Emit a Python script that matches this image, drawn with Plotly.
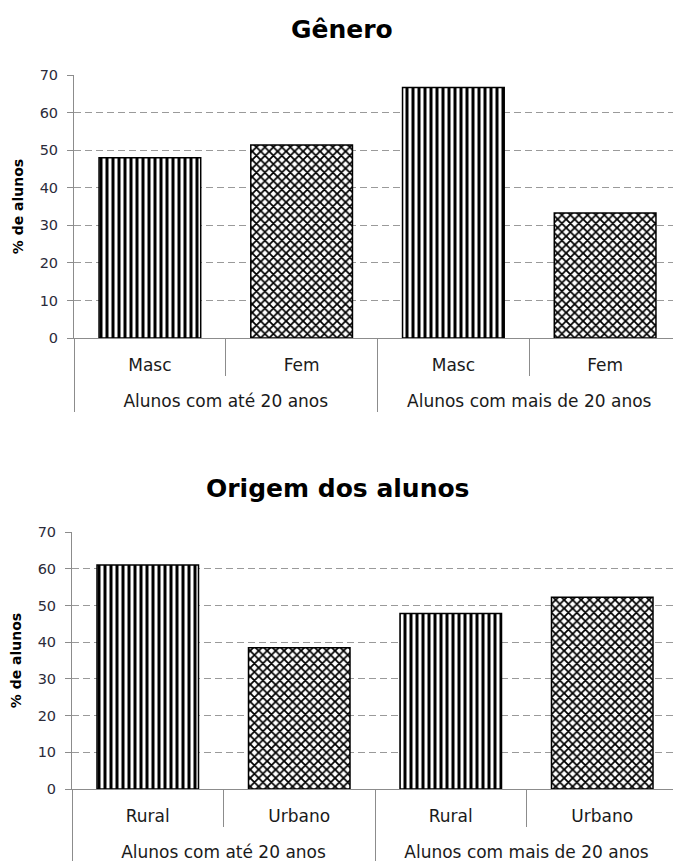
import plotly.graph_objects as go

groups = ["Alunos com até 20 anos", "Alunos com até 20 anos",
          "Alunos com mais de 20 anos", "Alunos com mais de 20 anos"]
genero_cats = ["Masc", "Fem", "Masc", "Fem"]
genero_vals = [48.0, 51.4, 66.7, 33.3]
origem_cats = ["Rural", "Urbano", "Rural", "Urbano"]
origem_vals = [61.0, 38.5, 47.8, 52.2]
patterns = ["|", "x", "|", "x"]
y_ticks = [0, 10, 20, 30, 40, 50, 60, 70]

# page body has an 8px margin, so the figure is 8px smaller than the window
W, H = 673, 853
FONT = "DejaVu Sans"
L = 64

fig = go.Figure()


def bar(cats, vals, xa, ya):
    return go.Bar(
        x=[groups, cats], y=vals, xaxis=xa, yaxis=ya,
        marker=dict(color="white",
                    line=dict(color="black", width=1.5),
                    pattern=dict(shape=patterns, size=6, solidity=0.5,
                                 fgcolor="black", bgcolor="white",
                                 fillmode="replace")),
        showlegend=False, hoverinfo="skip")


fig.add_trace(bar(genero_cats, genero_vals, "x", "y"))
fig.add_trace(bar(origem_cats, origem_vals, "x2", "y2"))


def py(px):
    return 1 - px / H


def pxx(px):
    return (px - L) / (W - L)


xcommon = dict(type="multicategory", showline=True, linecolor="#8c8c8c",
               linewidth=1, ticks="outside", tickson="boundaries",
               ticklen=37, tickcolor="#8c8c8c", showgrid=False,
               dividercolor="#8c8c8c", dividerwidth=1,
               ticklabelstandoff=12,
               ticksuffix="<br><span style='font-size:34px'>\u00a0</span>",
               tickfont=dict(family=FONT, size=17, color="#1a1a1a"),
               automargin=False)
ycommon = dict(range=[0, 70], tickvals=y_ticks, showline=True,
               linecolor="#8c8c8c",
               ticks="outside", ticklen=6, tickcolor="#8c8c8c",
               showgrid=True, gridcolor="#9a9a9a", griddash="7px,4px",
               gridwidth=1, zeroline=False, ticklabelstandoff=6,
               tickfont=dict(family=FONT, size=14.5, color="#2b2b3a"),
               title=dict(text="<b>% de alunos</b>", standoff=12,
                          font=dict(family=FONT, size=14, color="black")),
               automargin=False)

fig.update_layout(
    width=W, height=H,
    margin=dict(l=L, r=0, t=0, b=0),
    paper_bgcolor="white", plot_bgcolor="white",
    xaxis=dict(domain=[pxx(66), 1], anchor="y", **xcommon),
    yaxis=dict(domain=[py(330), py(67)], anchor="x", **ycommon),
    xaxis2=dict(domain=[0, pxx(670)], anchor="y2", **xcommon),
    yaxis2=dict(domain=[py(781), py(524)], anchor="x2", **ycommon),
    bargap=0.33,
    annotations=[
        dict(text="<b>Gênero</b>", x=pxx(334), y=py(21), xref="paper",
             yref="paper", showarrow=False, yanchor="middle",
             font=dict(family=FONT, size=25, color="black")),
        dict(text="<b>Origem dos alunos</b>", x=pxx(330), y=py(480),
             xref="paper", yref="paper", showarrow=False, yanchor="middle",
             font=dict(family=FONT, size=25, color="black")),
    ],
)

fig.write_html("out.html")
